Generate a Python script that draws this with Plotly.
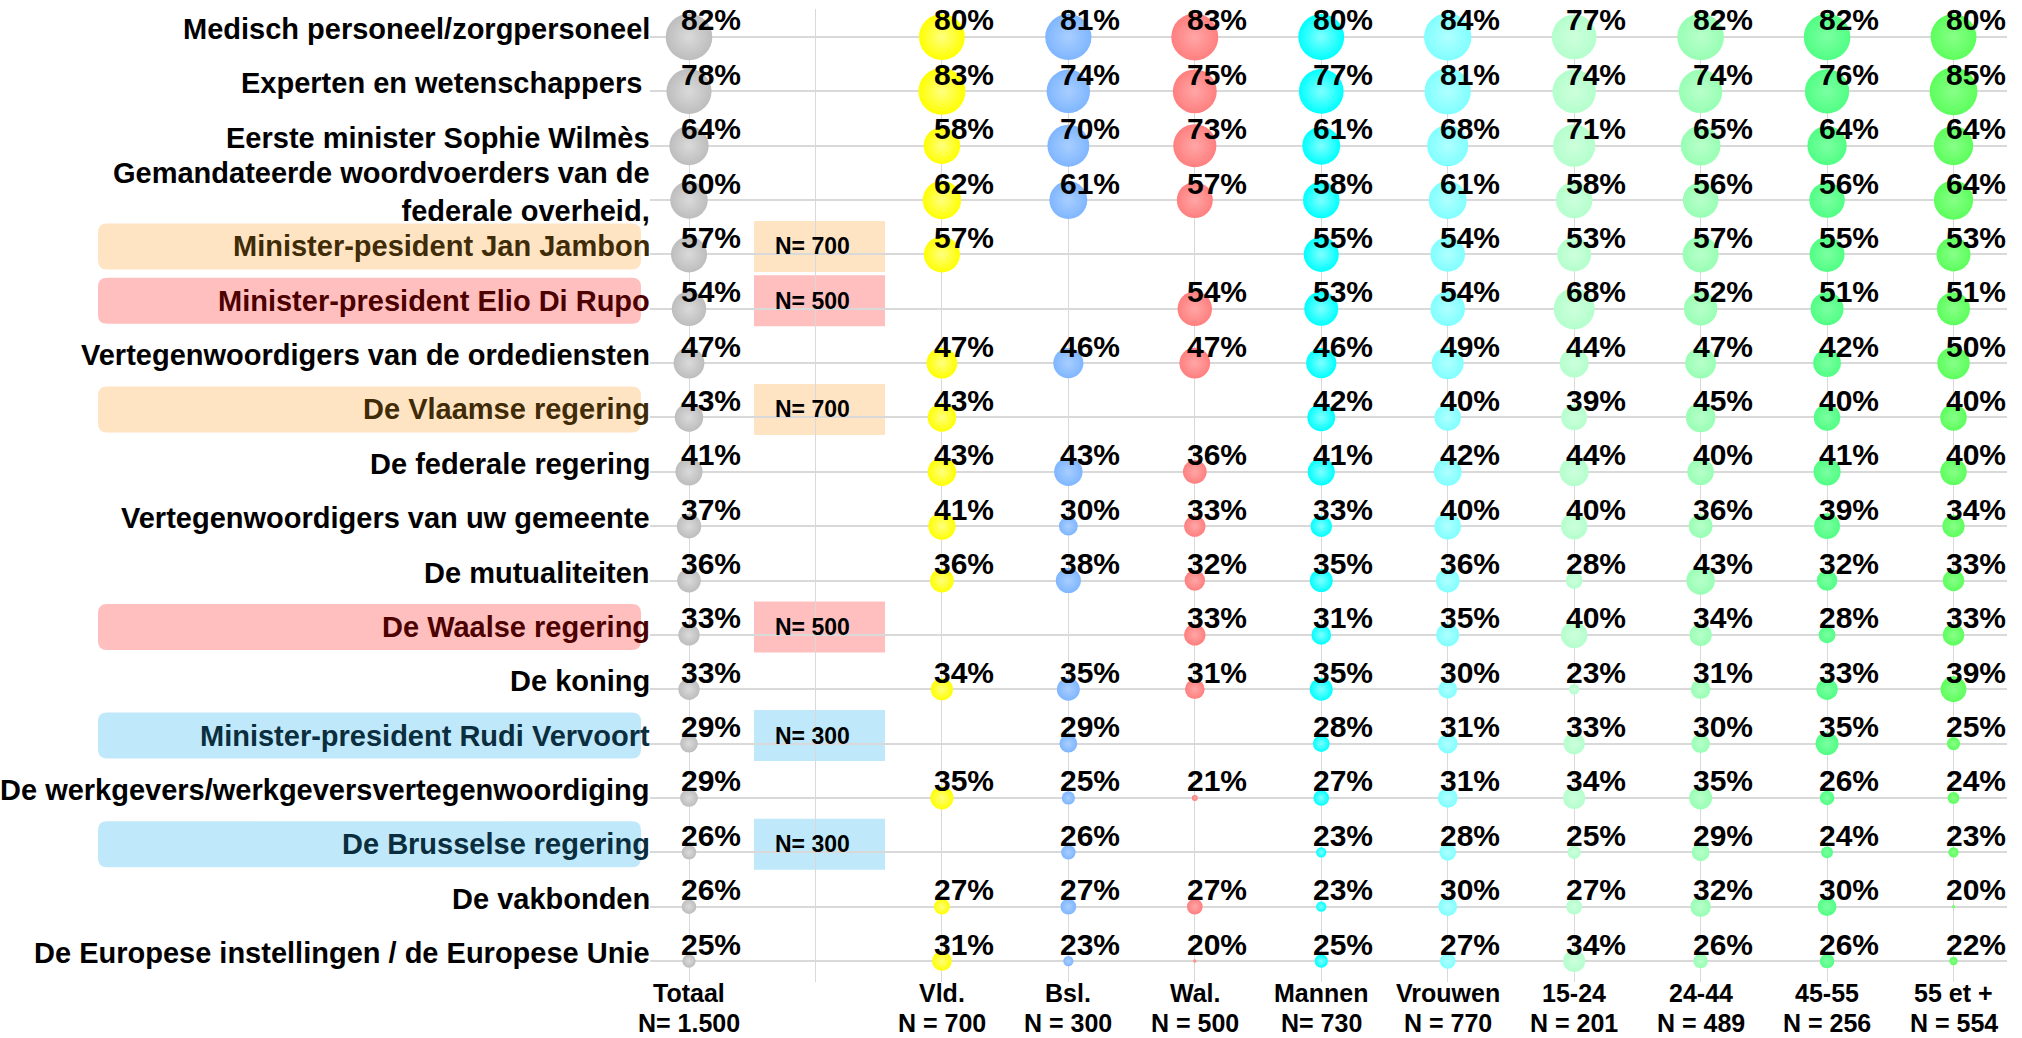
import plotly.graph_objects as go

# ---------------- data ----------------
categories = [
    "Medisch personeel/zorgpersoneel",
    "Experten en wetenschappers ",
    "Eerste minister Sophie Wilmès",
    "Gemandateerde woordvoerders van de<br>federale overheid,",
    "Minister-pesident Jan Jambon",
    "Minister-president Elio Di Rupo",
    "Vertegenwoordigers van de ordediensten",
    "De Vlaamse regering",
    "De federale regering",
    "Vertegenwoordigers van uw gemeente",
    "De mutualiteiten",
    "De Waalse regering",
    "De koning",
    "Minister-president Rudi Vervoort",
    "De werkgevers/werkgeversvertegenwoordiging",
    "De Brusselse regering",
    "De vakbonden",
    "De Europese instellingen / de Europese Unie",
]

column_names = ["Totaal", "", "Vld.", "Bsl.", "Wal.", "Mannen", "Vrouwen", "15-24", "24-44", "45-55", "55 et +"]
column_n = ["N= 1.500", "", "N = 700", "N = 300", "N = 500", "N= 730", "N = 770", "N = 201", "N = 489", "N = 256", "N = 554"]

totaal  = [82, 78, 64, 60, 57, 54, 47, 43, 41, 37, 36, 33, 33, 29, 29, 26, 26, 25]
vld     = [80, 83, 58, 62, 57, None, 47, 43, 43, 41, 36, None, 34, None, 35, None, 27, 31]
bsl     = [81, 74, 70, 61, None, None, 46, None, 43, 30, 38, None, 35, 29, 25, 26, 27, 23]
wal     = [83, 75, 73, 57, None, 54, 47, None, 36, 33, 32, 33, 31, None, 21, None, 27, 20]
mannen  = [80, 77, 61, 58, 55, 53, 46, 42, 41, 33, 35, 31, 35, 28, 27, 23, 23, 25]
vrouwen = [84, 81, 68, 61, 54, 54, 49, 40, 42, 40, 36, 35, 30, 31, 31, 28, 30, 27]
age_15_24 = [77, 74, 71, 58, 53, 68, 44, 39, 44, 40, 28, 40, 23, 33, 34, 25, 27, 34]
age_24_44 = [82, 74, 65, 56, 57, 52, 47, 45, 40, 36, 43, 34, 31, 30, 35, 29, 32, 26]
age_45_55 = [82, 76, 64, 56, 55, 51, 42, 40, 41, 39, 32, 28, 33, 35, 26, 24, 30, 26]
age_55_plus = [80, 85, 64, 64, 53, 51, 50, 40, 40, 34, 33, 33, 39, 25, 24, 23, 20, 22]

# regional questions (asked to a sub-sample only)
regional_rows = ["Minister-pesident Jan Jambon", "Minister-president Elio Di Rupo", "De Vlaamse regering",
                 "De Waalse regering", "Minister-president Rudi Vervoort", "De Brusselse regering"]
regional_n = ["N= 700", "N= 500", "N= 700", "N= 500", "N= 300", "N= 300"]
regional_region = ["vl", "wa", "vl", "wa", "bru", "bru"]

# ---------------- styling ----------------
series = [
    (0, totaal, "#bdbdbd", "#dadada"),
    (2, vld, "#ffff00", "#ffff80"),
    (3, bsl, "#7fb6ff", "#a8ceff"),
    (4, wal, "#ff7f7f", "#ffa6a6"),
    (5, mannen, "#00ffff", "#80ffff"),
    (6, vrouwen, "#80ffff", "#b0ffff"),
    (7, age_15_24, "#b4ffcc", "#cdffdd"),
    (8, age_24_44, "#98ffb4", "#b8ffca"),
    (9, age_45_55, "#50ff84", "#7cffa2"),
    (10, age_55_plus, "#5cff5c", "#88ff88"),
]
region_fill = {"vl": "#ffe4c4", "wa": "#ffbfbf", "bru": "#bfe8fa"}
region_text = {"vl": "#3f2b06", "wa": "#4c0000", "bru": "#0a2e3e"}

W, H = 2022, 1038
ML, MR, MT, MB = 650, 15, 9, 56
PW = W - ML - MR
FONT = "Liberation Sans, Arial, sans-serif"
BUBBLE_OFFSET = 20  # bubble area grows with value above this baseline

rows = list(range(len(categories)))
fig = go.Figure()
annotations = []
shapes = []

for col, vals, color, light in series:
    xs, ys, sz = [], [], []
    for r, v in zip(rows, vals):
        if v is None:
            continue
        xs.append(col)
        ys.append(r)
        sz.append(max(v - BUBBLE_OFFSET, 0.05))
        annotations.append(dict(
            x=col, y=r, xref="x", yref="y", text=f"{v}%", showarrow=False,
            xanchor="center", yanchor="middle", xshift=22, yshift=17,
            font=dict(family=FONT, size=30, color="black", weight="bold")))
    fig.add_trace(go.Scatter(
        x=xs, y=ys, mode="markers", hoverinfo="skip", showlegend=False,
        marker=dict(size=sz, sizemode="area", sizeref=2 / 35.05, sizemin=1.7,
                    color=color, opacity=1, line=dict(width=0),
                    gradient=dict(type="radial", color=light))))

# category labels on the left
for r, lab in zip(rows, categories):
    tcolor = "black"
    if lab in regional_rows:
        k = regional_rows.index(lab)
        reg = regional_region[k]
        tcolor = region_text[reg]
        # rounded highlight box behind the label
        x0 = (98 - ML) / PW
        x1 = (641 - ML) / PW
        rx = 9 / PW
        ry = 9 / 54.35
        yc = r - 8 / 54.35
        hh = 23 / 54.35
        y0, y1 = yc - hh, yc + hh
        path = (f"M {x0+rx},{y0} L {x1-rx},{y0} Q {x1},{y0} {x1},{y0+ry} "
                f"L {x1},{y1-ry} Q {x1},{y1} {x1-rx},{y1} L {x0+rx},{y1} "
                f"Q {x0},{y1} {x0},{y1-ry} L {x0},{y0+ry} Q {x0},{y0} {x0+rx},{y0} Z")
        shapes.append(dict(type="path", path=path, xref="paper", yref="y",
                           fillcolor=region_fill[reg], line=dict(width=0), layer="below"))
        # N= box in the spacer column
        shapes.append(dict(type="rect", xref="x", yref="y",
                           x0=0.514, x1=1.55, y0=r - 0.616, y1=r + 0.322,
                           fillcolor=region_fill[reg], line=dict(width=0), layer="below"))
        annotations.append(dict(
            x=0.977, y=r, xref="x", yref="y", text=regional_n[k], showarrow=False,
            xanchor="center", yanchor="middle", yshift=8,
            font=dict(family=FONT, size=23, color="black", weight="bold")))
    annotations.append(dict(
        x=0, y=r, xref="paper", yref="y", text=lab, showarrow=False,
        xanchor="right", yanchor="middle", align="right", xshift=2, yshift=8,
        font=dict(family=FONT, size=29, color=tcolor, weight="bold")))

# column headers below the plot (two lines, placed separately)
for c, (name, n) in enumerate(zip(column_names, column_n)):
    if not name:
        continue
    for txt, shift in ((name, -11), (n, -41)):
        annotations.append(dict(
            x=c, y=0, xref="x", yref="paper", text=txt, showarrow=False,
            xanchor="center", yanchor="middle", yshift=shift, align="center",
            borderpad=0,
            font=dict(family=FONT, size=25, color="black", weight="bold")))

fig.update_layout(
    width=W, height=H,
    margin=dict(l=ML, r=MR, t=MT, b=MB),
    paper_bgcolor="white", plot_bgcolor="white",
    xaxis=dict(range=[-0.3084, 10.423], tickvals=list(range(11)), showticklabels=False,
               showgrid=True, gridcolor="#d9d9d9", gridwidth=1, zeroline=False,
               showline=False, ticks=""),
    yaxis=dict(range=[17.386, -0.515], tickvals=rows, showticklabels=False,
               showgrid=True, gridcolor="#d9d9d9", gridwidth=1.6, zeroline=False,
               showline=False, ticks=""),
    annotations=annotations,
    shapes=shapes,
)

fig.write_html("out.html", config={"displayModeBar": False},
               post_script="document.body.style.margin='0';")
